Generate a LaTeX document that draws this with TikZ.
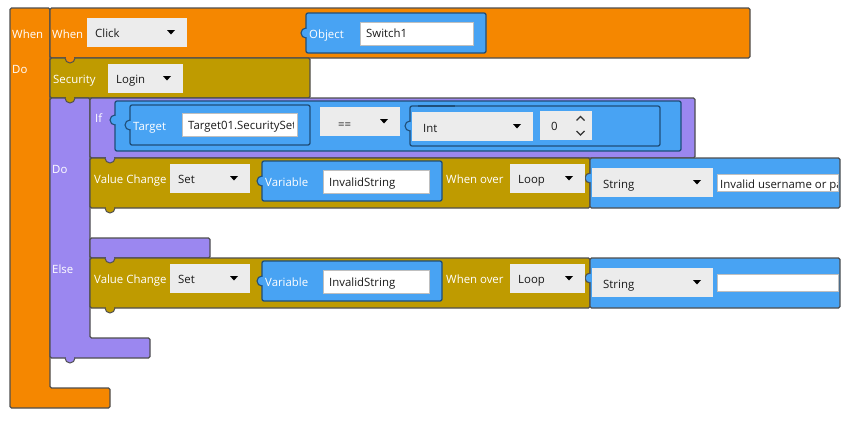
\documentclass[tikz,border=0pt]{standalone}
\usepackage{fontspec}
\setmainfont{Open Sans}
\definecolor{borange}{HTML}{F58700}
\definecolor{bolive}{HTML}{BF9B00}
\definecolor{bpurple}{HTML}{9B87F0}
\definecolor{bblue}{HTML}{48A3F3}
\definecolor{bdrop}{HTML}{ECECEC}
\definecolor{bedge}{HTML}{4F4F4F}
\definecolor{bnavy}{HTML}{1F4E79}
\definecolor{btext}{HTML}{1A1A1A}
\tikzset{
  x=1pt,y=-1pt,
  blockline/.style={draw=bedge,line width=1.1pt,rounded corners=1.5pt},
  bluein/.style={draw=bnavy,line width=1.3pt,rounded corners=2pt,fill=bblue},
  lab/.style={text=white,font=\fontsize{11.4}{13}\selectfont,anchor=base west,inner sep=0pt},
  dark/.style={text=btext,font=\fontsize{11.4}{13}\selectfont,anchor=base west,inner sep=0pt},
  dropbox/.style={fill=bdrop,draw=none},
  textbox/.style={fill=white,draw=black!25,line width=0.8pt},
  caret/.style={fill=black,draw=none}
}
% downward tab at (x,y), opening into the block above it
\newcommand{\tabdown}[3]{%
  \draw[fill=#1,draw=bedge,line width=1pt] (#2-5,#3) arc[start angle=180,end angle=0,radius=5];
  \fill[#1] (#2-4.4,#3-1.2) rectangle (#2+4.4,#3+1.2);}
% left tab at (x,y), opening into the block on its right
\newcommand{\tableft}[3]{%
  \draw[fill=bblue,draw=#1,line width=1.1pt] (#2,#3-5) arc[start angle=270,end angle=90,radius=5];
  \fill[bblue] (#2-1.2,#3-4.4) rectangle (#2+1.2,#3+4.4);}
% dropdown: name,x1,y1,x2,y2,text offset,text,baseline
\newcommand{\dropdn}[8]{%
  \path[dropbox] (#2,#3) rectangle (#4,#5);
  \node[dark] (#1) at ({#2+#6},#8) {#7};
  \path[caret] ({#4-20},{(#3+#5)/2-2.5}) -- ++(8,0) -- ++(-4,4.5) -- cycle;}
\begin{document}
\begin{tikzpicture}
\useasboundingbox (0,0) rectangle (858,421);
\fill[white] (0,0) rectangle (858,421);
% outer orange
\draw[blockline,fill=borange] (50,8) -- (10,8) -- (10,408) -- (110,408) -- (110,388) -- (50,388) -- cycle;
\draw[blockline,fill=borange] (50,8) rectangle (750,58);
% security
\draw[blockline,fill=bolive] (50,58) rectangle (310,98);
\tabdown{borange}{70}{58}
% purple do/else
\draw[blockline,fill=bpurple] (50,98) -- (50,358) -- (150,358) -- (150,338) -- (90,338) -- (90,98) -- cycle;
\tabdown{bpurple}{70}{358}
\tabdown{bolive}{70}{98}
% if
\draw[blockline,fill=bpurple] (90,98) rectangle (695,158);
% value change 1
\draw[blockline,fill=bolive] (90,158) rectangle (590,208);
\tabdown{bolive}{110}{208}
\tabdown{bpurple}{110}{158}
% string 1
\draw[blockline,fill=bblue] (590,158) rectangle (840,208);
% purple bar
\draw[blockline,fill=bpurple] (90,238) rectangle (210,258);
% value change 2
\draw[blockline,fill=bolive] (90,258) rectangle (590,308);
\tabdown{bolive}{110}{308}
\tabdown{bpurple}{110}{258}
% string 2
\draw[blockline,fill=bblue] (590,258) rectangle (840,308);
% object
\draw[bluein] (306,13) rectangle (486,53);
\tableft{bnavy}{306}{33}
% if blue
\draw[bluein] (115,101) rectangle (681,151);
\tableft{bnavy}{115}{120}
\draw[bluein] (130,105) rectangle (310,145);
\tableft{bnavy}{130}{125}
\draw[bluein] (410,106) rectangle (660,146);
\draw[bnavy,line width=1.8pt] (418,106) -- (455,106);
\tableft{bnavy}{410}{126}
% variables
\draw[bluein] (262,161) rectangle (442,201);
\tableft{bnavy}{262}{181}
\draw[bluein] (262,261) rectangle (442,301);
\tableft{bnavy}{262}{281}
% string tabs
\tableft{bedge}{590}{178}
\tableft{bedge}{590}{278}
% labels
\node[lab] (l1) at (12,38) {When};
\node[lab] (l2) at (12,73) {Do};
\node[lab] (l3) at (52,38) {When};
\node[lab] (l4) at (53,83) {Security};
\node[lab] (l5) at (95,122.5) {If};
\node[lab] (l6) at (52,173) {Do};
\node[lab] (l7) at (52,273.3) {Else};
\node[lab] (l8) at (94,183.3) {Value Change};
\node[lab] (l9) at (94,283.3) {Value Change};
\node[lab] (l10) at (446,183.3) {When over};
\node[lab] (l11) at (446,283.3) {When over};
\node[lab] (l12) at (309,38) {Object};
\node[lab] (l13) at (133,130) {Target};
\node[lab] (l14) at (265,186) {Variable};
\node[lab] (l15) at (265,286) {Variable};
% dropdowns
\dropdn{d1}{87}{18}{187}{47}{8}{Click}{37}
\dropdn{d2}{108}{64}{183}{93}{8}{Login}{83}
\dropdn{d3}{320}{107}{400}{136}{18}{==}{128}
\dropdn{d4}{412}{112}{533}{141}{11}{Int}{132}
\dropdn{d5}{170}{164}{250}{193}{8}{Set}{183}
\dropdn{d6}{170}{264}{250}{293}{8}{Set}{283}
\dropdn{d7}{510}{164}{585}{193}{8}{Loop}{183}
\dropdn{d8}{510}{264}{585}{293}{8}{Loop}{283}
\dropdn{d9}{592}{168}{713}{197}{11}{String}{188}
\dropdn{d10}{592}{268}{713}{297}{11}{String}{288}
% spin
\path[dropbox] (540,111) rectangle (592,140);
\node[dark] (sp) at (551,130) {0};
\draw[black!80,line width=1.2pt] (576.5,120.5) -- (580.5,116.5) -- (584.5,120.5);
\draw[black!80,line width=1.2pt] (576.5,131) -- (580.5,135) -- (584.5,131);
% text boxes
\path[textbox] (360,22) rectangle (473,45);
\node[dark] (t1) at (366,37.3) {Switch1};
\path[textbox] (182,113) rectangle (297,136);
\begin{scope}
\clip (183,113) rectangle (293,136);
\node[dark] (t2) at (188,129.3) {Target01.SecuritySet};
\end{scope}
\path[textbox] (323,170) rectangle (429,193);
\node[dark] (t3) at (329,186) {InvalidString};
\path[textbox] (323,270) rectangle (429,293);
\node[dark] (t4) at (329,286) {InvalidString};
\path[textbox] (717,174) rectangle (838,191);
\begin{scope}
\clip (718,174) rectangle (837,191);
\node[dark] (t5) at (720,188) {Invalid username or pa};
\end{scope}
\path[textbox] (717,274) rectangle (838,291);
\end{tikzpicture}
\end{document}
